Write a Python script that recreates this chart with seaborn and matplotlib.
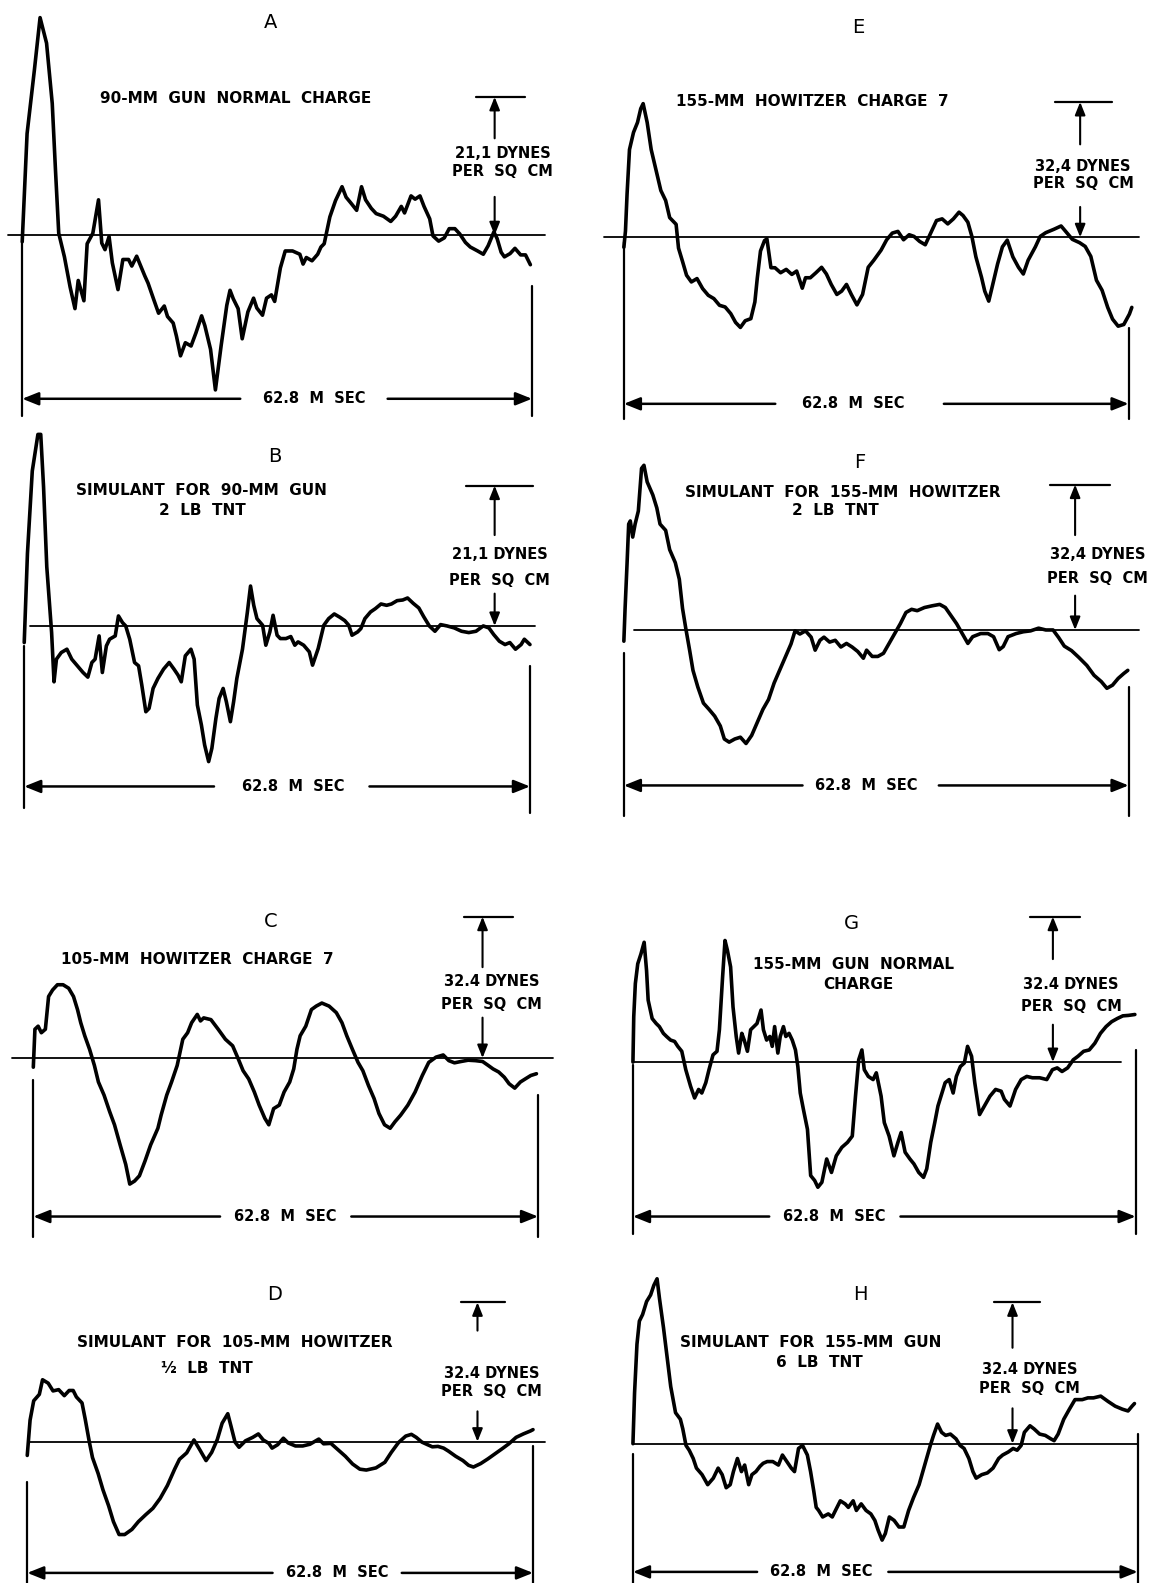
import pandas as pd
import seaborn as sns
import matplotlib.pyplot as plt

SPAN = 62.8  # msec, sweep length of every record

# A - 90-mm gun normal charge (time in msec, pressure in dynes per sq cm)
a_time = [0.0, 0.6, 1.5, 2.2, 3.0, 3.7, 4.1, 4.5, 5.2, 5.9,
          6.5, 6.9, 7.6, 8.0, 8.7, 9.4, 9.8, 10.2, 10.7, 11.1,
          11.8, 12.4, 13.1, 13.5, 14.1, 14.6, 15.1, 15.5, 16.2, 16.8,
          17.5, 17.9, 18.6, 19.0, 19.5, 20.1, 20.8, 21.4, 22.1, 22.5,
          23.2, 23.8, 24.5, 25.2, 25.6, 26.0, 26.6, 27.1, 27.8, 28.5,
          28.9, 29.6, 30.1, 30.7, 31.1, 31.8, 32.4, 33.3, 34.2, 34.6,
          35.0, 35.7, 36.4, 36.8, 37.2, 37.9, 38.6, 39.4, 39.9, 40.5,
          41.2, 41.8, 42.3, 43.0, 43.6, 44.5, 45.4, 46.0, 46.7, 47.1,
          47.9, 48.4, 49.0, 49.5, 50.2, 50.6, 51.3, 52.0, 52.6, 53.3,
          53.9, 54.6, 55.2, 56.1, 56.8, 57.4, 58.1, 58.5, 59.0, 59.4,
          60.1, 60.7, 61.4, 62.0, 62.6]
a_pres = [-1.0, 15.5, 25.2, 33.2, 29.3, 20.1, 9.9, 0.3, -3.3, -7.9,
          -11.2, -6.9, -10.0, -1.3, 0.3, 5.4, -1.2, -2.2, -0.2, -4.2,
          -8.3, -3.7, -3.7, -4.7, -3.2, -4.7, -6.2, -7.3, -9.8, -11.9,
          -10.8, -12.4, -13.4, -15.4, -18.4, -16.4, -16.9, -14.9, -12.3, -13.8,
          -17.4, -23.6, -16.9, -10.7, -8.4, -9.7, -11.2, -15.8, -11.7, -9.6,
          -11.1, -12.2, -9.6, -9.1, -10.1, -5.0, -2.4, -2.4, -2.9, -4.4,
          -3.4, -3.9, -2.9, -1.8, -1.3, 2.8, 5.3, 7.4, 5.8, 4.9,
          3.8, 7.4, 5.4, 4.1, 3.3, 2.9, 2.1, 2.9, 4.4, 3.4,
          6.0, 5.5, 6.0, 4.4, 2.5, -0.1, -0.9, -0.4, 1.0, 1.0,
          0.2, -1.1, -1.8, -2.4, -2.9, -1.6, 0.5, -0.5, -2.6, -3.3,
          -2.8, -2.0, -3.0, -3.0, -4.5]

# B - simulant for 90-mm gun, 2 lb TNT
b_time = [0.0, 0.4, 1.0, 1.7, 2.05, 2.4, 2.8, 3.4, 3.7, 4.0,
          4.6, 5.3, 5.9, 6.6, 7.3, 7.9, 8.4, 8.8, 9.3, 9.7,
          10.2, 10.6, 11.3, 11.7, 12.2, 12.6, 13.1, 13.7, 14.2, 14.6,
          15.1, 15.5, 16.0, 16.6, 17.3, 18.0, 18.6, 19.1, 19.5, 20.0,
          20.7, 21.1, 21.5, 22.0, 22.4, 22.9, 23.3, 23.8, 24.2, 24.7,
          25.1, 25.6, 26.0, 26.4, 27.1, 27.7, 28.1, 28.5, 28.9, 29.6,
          30.0, 30.5, 30.9, 31.4, 31.8, 32.5, 33.1, 33.6, 34.0, 34.7,
          35.4, 35.8, 36.5, 37.2, 37.8, 38.5, 39.2, 39.8, 40.3, 40.7,
          41.4, 41.8, 42.3, 43.0, 43.6, 44.3, 45.0, 45.6, 46.3, 47.0,
          47.6, 48.3, 49.0, 49.6, 50.3, 51.0, 51.7, 52.5, 53.4, 54.3,
          55.2, 56.1, 57.0, 57.7, 58.3, 59.0, 59.7, 60.3, 61.0, 61.7,
          62.1, 62.8]
b_pres = [-2.5, 10.9, 23.3, 28.8, 28.8, 20.9, 8.9, -1.0, -8.4, -5.0,
          -4.0, -3.5, -5.0, -6.0, -7.0, -7.7, -5.5, -5.0, -1.5, -7.0,
          -3.0, -2.0, -1.5, 1.5, 0.5, 0.0, -2.0, -5.5, -6.0, -8.9,
          -12.9, -12.4, -9.4, -7.9, -6.5, -5.5, -6.5, -7.4, -8.4, -4.5,
          -3.5, -5.0, -11.9, -14.9, -17.9, -20.4, -18.4, -13.9, -10.9, -9.4,
          -11.4, -14.4, -11.4, -7.9, -3.5, 2.0, 6.0, 3.1, 1.1, 0.1,
          -2.9, -0.9, 1.6, -1.4, -1.9, -1.9, -1.6, -2.9, -2.4, -2.9,
          -3.9, -5.9, -3.4, 0.1, 1.1, 1.8, 1.3, 0.8, 0.1, -1.4,
          -0.9, -0.4, 1.1, 2.1, 2.6, 3.3, 3.1, 3.3, 3.8, 3.9,
          4.2, 3.4, 2.7, 1.4, 0.0, -0.8, 0.2, 0.0, -0.3, -0.8,
          -1.0, -0.8, 0.0, -0.3, -1.3, -2.3, -2.8, -2.5, -3.5, -2.8,
          -2.0, -2.8]

# C - 105-mm howitzer charge 7
c_time = [0.0, 0.2, 0.6, 1.0, 1.5, 1.9, 2.4, 3.0, 3.7, 4.4,
          5.0, 5.5, 5.9, 6.4, 7.0, 7.6, 8.1, 8.8, 9.5, 10.1,
          10.8, 11.5, 12.0, 12.6, 13.2, 13.9, 14.6, 15.5, 15.9, 16.6,
          17.2, 17.9, 18.6, 19.2, 19.7, 20.4, 20.8, 21.2, 22.1, 23.0,
          23.9, 24.8, 25.5, 26.1, 26.8, 27.5, 28.1, 28.8, 29.3, 29.9,
          30.6, 31.2, 31.9, 32.4, 32.8, 33.2, 33.9, 34.6, 35.2, 35.9,
          36.8, 37.7, 38.4, 39.0, 39.7, 40.4, 41.0, 41.7, 42.4, 43.0,
          43.7, 44.4, 45.0, 45.7, 46.6, 47.5, 48.4, 49.2, 50.1, 51.0,
          51.7, 52.4, 53.2, 54.1, 55.0, 55.9, 56.6, 57.2, 57.9, 58.6,
          59.2, 59.9, 60.6, 61.2, 61.9, 62.6]
c_pres = [-2.1, 6.6, 7.3, 5.8, 6.6, 14.1, 15.6, 16.8, 16.8, 16.0,
          14.1, 11.1, 8.1, 5.1, 2.0, -1.7, -5.5, -8.5, -12.3, -15.3,
          -19.9, -24.4, -28.9, -28.2, -27.0, -23.6, -19.9, -16.1, -13.1, -8.5,
          -5.5, -1.7, 4.3, 5.8, 8.1, 10.0, 8.5, 9.2, 8.8, 6.6,
          4.3, 2.8, -0.2, -2.9, -4.8, -7.8, -10.8, -13.8, -15.3, -11.6,
          -10.8, -7.8, -5.5, -2.5, 2.0, 5.1, 7.3, 11.1, 11.9, 12.6,
          11.9, 10.4, 8.1, 5.1, 2.0, -1.0, -2.9, -6.3, -9.3, -12.7,
          -15.3, -16.1, -14.6, -13.1, -10.8, -7.8, -4.0, -1.0, 0.2, 0.7,
          -0.6, -1.1, -0.8, -0.5, -0.6, -0.8, -1.7, -2.5, -3.2, -4.4,
          -5.9, -6.9, -5.5, -4.8, -4.0, -3.6]

# D - simulant for 105-mm howitzer, 1/2 lb TNT
d_time = [0.0, 0.35, 0.8, 1.5, 1.9, 2.6, 3.2, 3.9, 4.6, 5.2,
          5.7, 6.1, 6.8, 7.2, 7.7, 8.1, 8.8, 9.4, 10.1, 10.7,
          11.4, 12.1, 13.0, 13.8, 14.7, 15.6, 16.5, 17.4, 18.3, 18.9,
          19.8, 20.7, 21.4, 22.2, 22.9, 23.6, 24.2, 24.9, 25.3, 25.8,
          26.3, 27.1, 28.0, 28.7, 29.3, 30.0, 30.4, 31.1, 31.8, 32.4,
          33.3, 34.2, 35.1, 36.2, 36.8, 37.7, 38.6, 39.5, 40.4, 41.3,
          42.1, 43.3, 44.4, 45.2, 46.1, 47.0, 47.7, 48.3, 49.0, 49.7,
          50.3, 51.0, 51.7, 52.3, 53.2, 54.1, 54.8, 55.4, 56.3, 57.2,
          58.1, 59.0, 59.8, 60.7, 61.6, 62.5, 62.8]
d_pres = [-3.2, 5.0, 9.5, 11.0, 14.4, 13.6, 11.8, 12.1, 10.7, 11.9,
          11.9, 10.4, 9.0, 5.2, 0.0, -3.7, -7.4, -11.2, -14.9, -18.6,
          -21.6, -21.6, -20.4, -18.6, -17.0, -15.5, -13.2, -10.2, -6.4, -4.1,
          -2.6, 0.4, -1.8, -4.4, -2.5, 0.5, 4.3, 6.5, 3.6, -0.1,
          -1.3, 0.2, 1.0, 1.8, 0.4, -0.4, -1.5, -0.7, 0.8, -0.3,
          -1.0, -1.0, -0.6, 0.6, -0.5, -0.4, -1.9, -3.4, -5.2, -6.4,
          -6.6, -6.1, -4.8, -2.5, -0.2, 1.3, 1.7, 1.0, -0.1, -0.7,
          -1.2, -1.1, -1.5, -2.2, -3.4, -4.4, -5.5, -5.9, -5.1, -4.0,
          -2.8, -1.6, -0.5, 1.0, 1.8, 2.5, 2.8]

# E - 155-mm howitzer charge 7
e_time = [0.0, 0.2, 0.4, 0.7, 1.2, 1.7, 2.1, 2.4, 2.9, 3.4,
          4.0, 4.6, 5.2, 5.7, 6.5, 6.8, 7.3, 7.8, 8.4, 9.1,
          9.8, 10.5, 11.2, 11.9, 12.6, 13.3, 13.9, 14.5, 15.1, 15.8,
          16.3, 16.6, 17.0, 17.5, 17.8, 18.3, 18.8, 19.5, 20.2, 20.9,
          21.5, 22.2, 22.6, 23.2, 23.9, 24.6, 25.2, 25.8, 26.5, 27.1,
          27.7, 28.3, 29.0, 29.7, 30.4, 31.1, 32.0, 32.7, 33.4, 34.1,
          34.8, 35.5, 36.1, 36.8, 37.5, 38.2, 38.9, 39.6, 40.3, 41.0,
          41.7, 42.2, 42.8, 43.3, 43.8, 44.5, 44.9, 45.4, 45.8, 46.5,
          47.1, 47.7, 48.4, 49.1, 49.7, 50.3, 51.2, 51.8, 52.5, 53.5,
          54.4, 55.1, 55.8, 56.7, 57.4, 58.1, 58.8, 59.5, 60.2, 60.8,
          61.5, 62.2, 62.9, 63.2]
e_pres = [-2.4, 1.5, 10.4, 21.0, 25.1, 27.5, 30.8, 32.0, 27.5, 21.0,
          16.1, 11.2, 8.8, 4.7, 3.1, -2.6, -5.8, -9.1, -10.7, -9.9,
          -12.3, -13.9, -14.7, -16.3, -16.7, -18.3, -20.4, -21.6, -20.0, -19.5,
          -15.5, -9.8, -3.3, -0.8, -0.4, -7.3, -7.3, -8.5, -7.7, -8.9,
          -8.1, -12.2, -9.7, -9.7, -8.5, -7.2, -8.8, -11.3, -13.7, -12.9,
          -11.3, -13.7, -16.2, -13.7, -7.2, -5.5, -3.1, -0.6, 1.0, 1.4,
          -0.6, 0.6, 0.2, -1.0, -1.8, 1.1, 4.0, 4.4, 3.2, 4.4,
          6.0, 5.2, 3.6, 0.2, -4.7, -9.6, -12.9, -15.3, -12.1, -6.4,
          -2.3, -0.7, -4.7, -7.2, -8.8, -5.5, -2.3, 0.2, 1.1, 1.9,
          2.7, 1.1, -0.5, -1.3, -2.2, -4.6, -10.3, -12.7, -16.8, -19.6,
          -21.3, -20.9, -18.4, -16.8]

# F - simulant for 155-mm howitzer, 2 lb TNT
f_time = [0.0, 0.15, 0.4, 0.6, 0.8, 1.1, 1.4, 1.8, 2.2, 2.5,
          2.9, 3.6, 4.1, 4.5, 5.2, 5.7, 6.4, 6.9, 7.3, 7.7,
          8.2, 8.6, 9.2, 9.9, 10.6, 11.3, 12.0, 12.5, 13.1, 13.8,
          14.5, 15.2, 15.9, 16.6, 17.3, 18.0, 18.7, 19.4, 20.1, 20.8,
          21.3, 21.9, 22.6, 23.3, 23.8, 24.4, 24.9, 25.6, 26.3, 27.0,
          27.7, 28.4, 29.1, 29.8, 30.2, 30.9, 31.6, 32.3, 33.0, 33.7,
          34.4, 35.1, 35.8, 36.5, 37.4, 38.4, 39.3, 40.0, 40.7, 41.4,
          42.1, 42.8, 43.4, 44.4, 45.3, 46.0, 46.7, 47.2, 47.8, 48.8,
          49.7, 50.6, 51.6, 52.5, 53.4, 54.1, 54.8, 55.7, 56.6, 57.6,
          58.5, 59.4, 60.1, 60.8, 61.5, 62.2, 62.7]
f_pres = [-2.5, 4.7, 14.9, 23.6, 24.3, 20.7, 23.6, 26.5, 36.0, 36.7,
          33.0, 30.1, 27.2, 23.6, 22.2, 17.9, 15.0, 11.3, 4.8, 0.4,
          -4.7, -9.0, -12.7, -16.3, -17.7, -19.2, -21.4, -24.3, -25.0, -24.3,
          -23.9, -25.3, -23.5, -20.6, -17.7, -15.5, -11.8, -8.9, -6.0, -3.1,
          -0.2, -0.9, -0.2, -1.6, -4.5, -2.3, -1.6, -2.7, -2.3, -3.8,
          -3.0, -3.8, -4.8, -6.3, -4.5, -5.9, -5.9, -5.2, -3.0, -0.8,
          1.4, 3.9, 4.6, 4.3, 5.0, 5.4, 5.7, 5.0, 3.2, 1.4,
          -0.8, -3.0, -1.5, -0.8, -0.8, -1.5, -4.4, -3.7, -1.5, -0.8,
          -0.4, -0.2, 0.4, 0.0, 0.0, -1.7, -3.6, -4.6, -6.1, -7.9,
          -10.1, -11.5, -13.0, -12.3, -10.8, -9.7, -9.0]

# G - 155-mm gun normal charge
g_time = [0.0, 0.1, 0.3, 0.6, 1.0, 1.4, 1.7, 1.9, 2.4, 2.9,
          3.3, 3.8, 4.2, 4.7, 5.2, 5.6, 6.1, 6.6, 7.2, 7.7,
          8.2, 8.6, 9.1, 9.5, 10.0, 10.5, 10.8, 11.2, 11.5, 11.8,
          12.2, 12.5, 12.9, 13.2, 13.6, 13.9, 14.3, 14.7, 15.1, 15.5,
          16.0, 16.3, 16.7, 17.1, 17.4, 17.7, 18.1, 18.4, 18.8, 19.1,
          19.5, 19.9, 20.3, 20.6, 20.9, 21.3, 21.8, 22.2, 22.7, 23.1,
          23.6, 24.2, 24.8, 25.4, 26.1, 26.8, 27.4, 27.8, 28.2, 28.6,
          28.9, 29.4, 30.0, 30.4, 31.0, 31.4, 32.0, 32.6, 33.1, 33.5,
          34.0, 34.6, 35.1, 35.7, 36.3, 36.7, 37.2, 37.7, 38.1, 38.6,
          39.0, 39.5, 40.0, 40.4, 40.9, 41.4, 41.8, 42.3, 42.7, 43.3,
          43.9, 44.6, 45.3, 46.0, 46.4, 47.1, 47.8, 48.5, 49.2, 49.9,
          50.8, 51.7, 52.4, 53.0, 53.6, 54.3, 55.0, 55.6, 56.3, 57.0,
          57.7, 58.4, 59.1, 59.8, 60.5, 61.2, 61.9, 62.7]
g_pres = [0.0, 10.1, 17.5, 21.9, 24.1, 26.7, 20.4, 13.8, 9.7, 8.6,
          7.9, 6.4, 5.7, 4.9, 4.6, 3.5, 2.4, -1.7, -5.4, -8.0,
          -6.1, -6.9, -4.6, -1.7, 1.6, 2.4, 7.2, 19.0, 27.1, 24.9,
          21.2, 12.3, 5.7, 2.0, 6.4, 4.9, 2.4, 7.2, 7.9, 8.6,
          11.6, 7.2, 4.9, 5.7, 3.5, 7.9, 2.0, 5.7, 7.9, 5.7,
          6.4, 4.9, 2.7, -1.0, -6.9, -10.6, -15.0, -25.3, -26.4, -27.9,
          -26.8, -21.6, -24.6, -20.9, -19.0, -17.9, -16.5, -7.6, 0.5, 2.7,
          -1.7, -3.2, -3.9, -2.4, -7.6, -13.5, -16.5, -20.9, -17.9, -15.7,
          -20.1, -21.6, -22.7, -24.6, -25.7, -23.8, -17.9, -13.5, -9.8, -6.9,
          -4.6, -3.9, -6.9, -3.2, -1.0, -0.2, 3.5, 1.3, -4.6, -11.7,
          -9.8, -7.6, -6.1, -6.5, -8.3, -9.8, -6.1, -3.9, -3.2, -3.5,
          -3.5, -3.9, -1.7, -1.3, -2.1, -1.3, 0.5, 1.3, 2.4, 2.7,
          4.2, 6.4, 7.9, 9.0, 9.7, 10.3, 10.4, 10.6]

# H - simulant for 155-mm gun, 6 lb TNT
h_time = [0.0, 0.2, 0.5, 0.8, 1.2, 1.7, 2.2, 2.6, 3.0, 3.3,
          3.8, 4.2, 4.7, 5.3, 5.9, 6.2, 6.6, 7.0, 7.5, 7.9,
          8.6, 9.3, 10.0, 10.6, 11.1, 11.6, 12.1, 12.5, 13.0, 13.5,
          13.9, 14.4, 14.8, 15.3, 15.8, 16.2, 16.7, 17.4, 18.1, 18.6,
          19.0, 19.7, 20.1, 20.6, 21.1, 21.7, 22.1, 22.5, 22.8, 23.1,
          23.6, 24.3, 24.8, 25.2, 25.8, 26.4, 26.8, 27.4, 27.8, 28.4,
          29.0, 29.6, 30.1, 30.5, 31.0, 31.4, 31.9, 32.5, 33.1, 33.7,
          34.3, 34.9, 35.6, 36.3, 37.0, 37.4, 37.9, 38.4, 38.9, 39.5,
          40.2, 40.7, 41.2, 41.8, 42.3, 42.7, 43.4, 44.1, 44.8, 45.5,
          46.0, 46.7, 47.3, 47.8, 48.3, 48.7, 49.4, 49.9, 50.6, 51.3,
          52.0, 52.4, 52.9, 53.6, 54.3, 55.0, 55.9, 56.6, 57.3, 58.2,
          59.1, 60.0, 60.9, 61.6, 62.1, 62.4]
h_pres = [0.0, 11.6, 22.8, 28.1, 29.6, 32.6, 34.1, 36.3, 37.8, 33.3,
          26.6, 20.6, 13.1, 7.1, 5.6, 3.4, -0.4, -1.5, -3.4, -5.6,
          -7.1, -9.4, -7.9, -5.6, -7.1, -10.1, -9.4, -6.4, -3.4, -6.4,
          -4.9, -9.4, -7.1, -6.4, -5.2, -4.5, -4.1, -4.1, -4.9, -2.6,
          -3.7, -5.6, -6.4, -1.1, -0.4, -2.6, -6.4, -10.9, -14.6, -15.3,
          -16.8, -16.1, -16.8, -15.3, -13.1, -13.8, -14.6, -13.1, -15.3, -13.8,
          -15.3, -16.1, -17.6, -19.8, -22.1, -20.6, -16.8, -17.6, -19.1, -19.1,
          -15.3, -12.4, -9.4, -4.9, -0.4, 1.9, 4.5, 2.6, 1.9, 2.2,
          1.1, -0.4, -1.1, -3.4, -6.4, -7.9, -7.1, -6.7, -5.6, -3.4,
          -2.6, -1.9, -1.1, -1.5, -0.4, 2.6, 4.1, 3.4, 2.2, 1.9,
          1.1, 0.7, 2.2, 5.6, 7.9, 10.1, 10.1, 10.5, 10.5, 10.9,
          9.7, 8.6, 7.9, 7.5, 8.6, 9.2]

traces = {
    "A": (a_time, a_pres), "B": (b_time, b_pres), "C": (c_time, c_pres),
    "D": (d_time, d_pres), "E": (e_time, e_pres), "F": (f_time, f_pres),
    "G": (g_time, g_pres), "H": (h_time, h_pres),
}

# layout of each record on a 1160 x 1568 grid (same as the original plate)
# L/R = 0 and 62.8 msec, B = zero line, T = calibration bar
layout = {
    "A": dict(L=22, R=527, B=233, T=96, scale=21.1, cal="21,1 DYNES",
              base=(8, 540), lb=(240, 412), rb=(283, 412), arr=395, gap=(238, 384), msec=311,
              cal_x=490, bar=(472, 520), up=137, dn=195, cal_txt=(498, 152, 170),
              letter=(268, 22), title=[("90-MM  GUN  NORMAL  CHARGE", 233, 98)]),
    "B": dict(L=24, R=525, B=620, T=481, scale=21.1, cal="21,1 DYNES",
              base=(30, 530), lb=(640, 800), rb=(660, 805), arr=779, gap=(212, 366), msec=290,
              cal_x=490, bar=(462, 528), up=530, dn=588, cal_txt=(495, 549, 575),
              letter=(272, 452), title=[("SIMULANT  FOR  90-MM  GUN", 200, 486), ("2  LB  TNT", 200, 506)]),
    "C": dict(L=33, R=533, B=1048, T=908, scale=32.4, cal="32.4 DYNES",
              base=(12, 548), lb=(1070, 1225), rb=(1085, 1225), arr=1205, gap=(218, 348), msec=283,
              cal_x=478, bar=(460, 508), up=958, dn=1008, cal_txt=(487, 972, 995),
              letter=(268, 913), title=[("105-MM  HOWITZER  CHARGE  7", 195, 950)]),
    "D": dict(L=27, R=528, B=1428, T=1290, scale=32.4, cal="32.4 DYNES",
              base=(28, 540), lb=(1468, 1583), rb=(1432, 1583), arr=1558, gap=(270, 398), msec=334,
              cal_x=473, bar=(457, 500), up=1318, dn=1398, cal_txt=(487, 1360, 1378),
              letter=(272, 1282), title=[("SIMULANT  FOR  105-MM  HOWITZER", 233, 1330), ("½  LB  TNT", 205, 1356)]),
    "E": dict(L=618, R=1118, B=235, T=101, scale=32.4, cal="32,4 DYNES",
              base=(598, 1128), lb=(240, 415), rb=(325, 415), arr=400, gap=(768, 935), msec=845,
              cal_x=1070, bar=(1045, 1102), up=143, dn=205, cal_txt=(1073, 165, 182),
              letter=(850, 27), title=[("155-MM  HOWITZER  CHARGE  7", 805, 101)]),
    "F": dict(L=618, R=1118, B=624, T=480, scale=32.4, cal="32,4 DYNES",
              base=(628, 1128), lb=(647, 808), rb=(680, 808), arr=778, gap=(795, 930), msec=858,
              cal_x=1065, bar=(1040, 1100), up=530, dn=590, cal_txt=(1087, 549, 573),
              letter=(852, 458), title=[("SIMULANT  FOR  155-MM  HOWITZER", 835, 488), ("2  LB  TNT", 828, 506)]),
    "G": dict(L=627, R=1125, B=1052, T=908, scale=32.4, cal="32.4 DYNES",
              base=(627, 1110), lb=(1055, 1222), rb=(1040, 1222), arr=1205, gap=(762, 892), msec=826,
              cal_x=1043, bar=(1020, 1070), up=950, dn=1015, cal_txt=(1061, 975, 997),
              letter=(843, 915), title=[("155-MM  GUN  NORMAL", 845, 955), ("CHARGE", 850, 975)]),
    "H": dict(L=627, R=1127, B=1430, T=1290, scale=32.4, cal="32.4 DYNES",
              base=(627, 1127), lb=(1440, 1583), rb=(1420, 1583), arr=1557, gap=(750, 880), msec=814,
              cal_x=1003, bar=(985, 1030), up=1335, dn=1395, cal_txt=(1020, 1357, 1375),
              letter=(852, 1282), title=[("SIMULANT  FOR  155-MM  GUN", 803, 1330), ("6  LB  TNT", 812, 1350)]),
}

sns.set_style("white")
plt.rcParams["font.family"] = ["DejaVu Sans"]

W, H = 1160, 1568
fig = plt.figure(figsize=(11.71, 15.83), dpi=100)


def ftext(x, y, s, size=11, weight="bold"):
    fig.text(x / W, 1 - y / H, s, ha="center", va="center",
             fontsize=size, fontweight=weight, color="black")


def arrow(ax, tail, head, ms=14, lw=1.8):
    ax.annotate("", xy=head, xytext=tail, annotation_clip=False,
                arrowprops=dict(arrowstyle="-|>,head_length=0.7,head_width=0.28",
                                mutation_scale=ms, lw=lw, color="black",
                                shrinkA=0, shrinkB=0))


def draw_record(key):
    lay = layout[key]
    time, pres = traces[key]
    L, R, B, T, scale = lay["L"], lay["R"], lay["B"], lay["T"], lay["scale"]
    ax = fig.add_axes([L / W, 1 - B / H, (R - L) / W, (B - T) / H])
    ax.set_xlim(0, SPAN)
    ax.set_ylim(0, scale)
    ax.axis("off")

    dx = lambda px: (px - L) / (R - L) * SPAN
    dy = lambda py: (B - py) / (B - T) * scale

    # zero line
    ax.plot([dx(lay["base"][0]), dx(lay["base"][1])], [0, 0], color="black", lw=1.3)

    # the pressure record
    df = pd.DataFrame({"msec": time, "dynes": pres})
    sns.lineplot(data=df, x="msec", y="dynes", ax=ax, sort=False, estimator=None,
                 color="black", lw=2.6, legend=False)

    # sweep brackets and the 62.8 msec arrow
    ax.plot([0, 0], [dy(lay["lb"][0]), dy(lay["lb"][1])], color="black", lw=1.6)
    ax.plot([SPAN, SPAN], [dy(lay["rb"][0]), dy(lay["rb"][1])], color="black", lw=1.6)
    ya = dy(lay["arr"])
    arrow(ax, (dx(lay["gap"][0]), ya), (0, ya))
    arrow(ax, (dx(lay["gap"][1]), ya), (SPAN, ya))
    ftext(lay["msec"], lay["arr"], "62.8  M  SEC", size=10.5)

    # calibration marker
    xc = dx(lay["cal_x"])
    ax.plot([dx(lay["bar"][0]), dx(lay["bar"][1])], [scale, scale], color="black", lw=1.6)
    arrow(ax, (xc, dy(lay["up"])), (xc, scale), ms=11, lw=1.5)
    arrow(ax, (xc, dy(lay["dn"])), (xc, 0), ms=11, lw=1.5)
    cx, cy1, cy2 = lay["cal_txt"]
    ftext(cx, cy1, lay["cal"], size=10.5)
    ftext(cx, cy2, "PER  SQ  CM", size=10.5)

    for ln in ax.lines:
        ln.set_clip_on(False)
        ln.set_solid_joinstyle("round")

    # record letter and caption
    ftext(lay["letter"][0], lay["letter"][1], key, size=14, weight="normal")
    for s, x, y in lay["title"]:
        ftext(x, y, s)


for key in "ABCDEFGH":
    draw_record(key)

plt.savefig("out.png", dpi=100, facecolor="white")
